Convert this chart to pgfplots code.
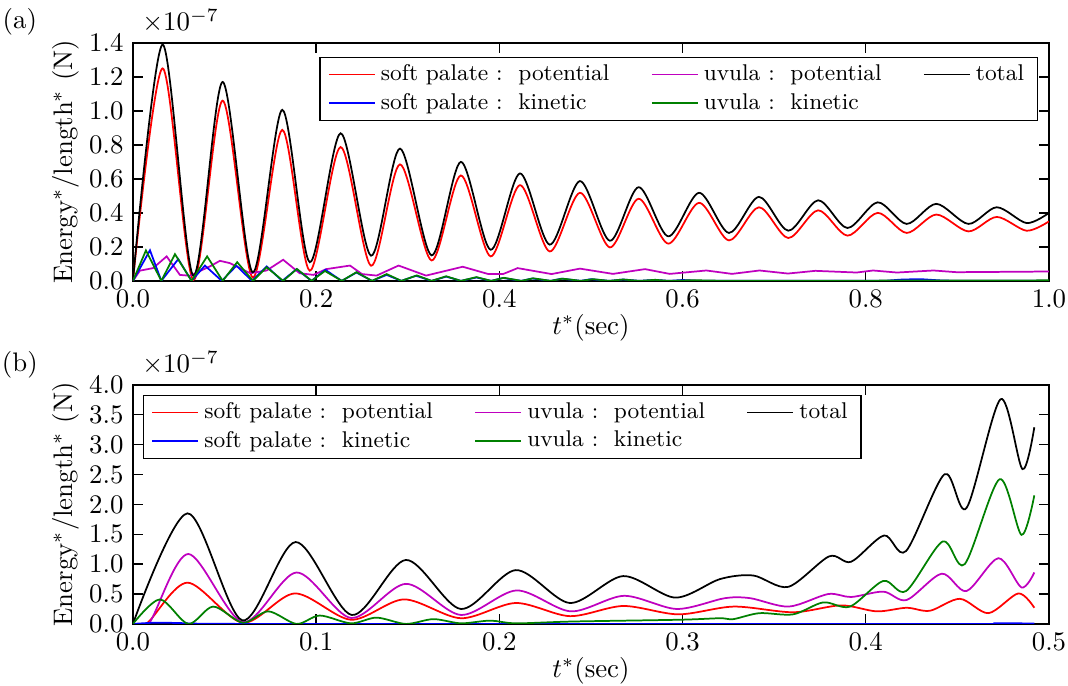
\documentclass[border=0pt]{standalone}
\usepackage{pgfplots}
\pgfplotsset{compat=1.18}
\definecolor{mplred}{RGB}{255,0,0}
\definecolor{mplblue}{RGB}{0,0,255}
\definecolor{mplmag}{RGB}{191,0,191}
\definecolor{mplgreen}{RGB}{0,128,0}
\pgfplotsset{
  myaxis/.style={
    scale only axis, width=341.8pt,
    xmin=0, ymin=0,
    tick align=inside, major tick length=3.7pt,
    axis line style={line width=0.6pt},
    every tick/.style={black, line width=0.5pt},
    xticklabel style={/pgf/number format/.cd, fixed, fixed zerofill, precision=1},
    yticklabel style={/pgf/number format/.cd, fixed, fixed zerofill, precision=1},
    xlabel={$t^*$(sec)}, xlabel shift=-4.5pt,
    ylabel={Energy$^*$/length$^*$ (N)}, ylabel shift=-3pt,
    legend cell align=left,
    legend columns=3,
    legend style={draw=black, font=\fontsize{8.5}{10}\selectfont,
      inner xsep=3pt, inner ysep=1pt,
      nodes={inner xsep=2pt, inner ysep=1.6pt, text depth=0.15em},
      /tikz/every even column/.append style={column sep=13.5pt}},
    every axis plot/.append style={line width=0.65pt, no markers},
  },
  legimgs/.style={}
}
\newcommand{\legendset}{%
\addlegendimage{mplred, line width=0.65pt}\addlegendentry{soft palate :\ \ potential}
\addlegendimage{mplmag, line width=0.65pt}\addlegendentry{uvula :\ \ potential}
\addlegendimage{black, line width=0.65pt}\addlegendentry{total}
\addlegendimage{mplblue, line width=0.65pt}\addlegendentry{soft palate :\ \ kinetic}
\addlegendimage{mplgreen, line width=0.65pt}\addlegendentry{uvula :\ \ kinetic}
}
\begin{document}
\begin{tikzpicture}
\useasboundingbox (-49.6pt,-151.1pt) rectangle (348.9pt,104.8pt);
\begin{axis}[myaxis, name=top, height=88.8pt, xmax=1, ymax=1.4,
  xtick={0,0.2,0.4,0.6,0.8,1.0}, ytick={0,0.2,0.4,0.6,0.8,1.0,1.2,1.4},
  legend style={at={(0.988,0.941)},anchor=north east}]
\legendset
\addplot[mplred, smooth, forget plot] coordinates {
(0,0) (0.0324,1.25) (0.0659,0.005) (0.0979,1.06) (0.1307,0.02) (0.163,0.888)
(0.193,0.06) (0.2267,0.787) (0.26,0.089) (0.2915,0.685) (0.326,0.12) (0.358,0.62)
(0.3905,0.144) (0.4225,0.563) (0.455,0.173) (0.488,0.518) (0.5207,0.197) (0.552,0.483)
(0.5844,0.219) (0.618,0.459) (0.6507,0.238) (0.6834,0.433) (0.7154,0.252) (0.748,0.415)
(0.780,0.266) (0.813,0.40) (0.8447,0.282) (0.877,0.39) (0.912,0.291) (0.943,0.376)
(0.9756,0.295) (1.0,0.35)};
\addplot[mplmag, forget plot] coordinates {
(0,0) (0.0076,0.06) (0.022,0.075) (0.0368,0.144) (0.0513,0.035) (0.062,0.03)
(0.084,0.085) (0.095,0.118) (0.106,0.104) (0.128,0.045) (0.146,0.061) (0.164,0.124)
(0.182,0.045) (0.197,0.035) (0.211,0.069) (0.237,0.09) (0.25,0.04) (0.266,0.031)
(0.29,0.09) (0.32,0.031) (0.36,0.083) (0.388,0.04) (0.404,0.04) (0.42,0.075)
(0.457,0.04) (0.488,0.072) (0.524,0.041) (0.559,0.069) (0.586,0.041) (0.626,0.061)
(0.654,0.041) (0.684,0.061) (0.715,0.043) (0.745,0.059) (0.79,0.049) (0.808,0.061)
(0.834,0.049) (0.874,0.061) (0.899,0.051) (0.95,0.053) (1.0,0.055)};
\addplot[black, smooth, forget plot] coordinates {
(0,0) (0.0324,1.39) (0.0659,0.03) (0.0979,1.17) (0.1307,0.05) (0.163,1.006)
(0.193,0.11) (0.2267,0.868) (0.26,0.148) (0.2915,0.778) (0.326,0.15) (0.358,0.70)
(0.3905,0.183) (0.4225,0.632) (0.455,0.213) (0.488,0.587) (0.5207,0.236) (0.552,0.551)
(0.5844,0.262) (0.618,0.518) (0.6507,0.282) (0.6834,0.494) (0.7154,0.295) (0.748,0.474)
(0.780,0.311) (0.813,0.462) (0.8447,0.335) (0.877,0.453) (0.912,0.335) (0.943,0.433)
(0.9756,0.34) (1.0,0.40)};
\addplot[mplblue, forget plot] coordinates {
(0,0) (0.0186,0.18) (0.031,0) (0.0495,0.128) (0.064,0) (0.0786,0.09) (0.097,0)
(0.113,0.089) (0.13,0) (0.146,0.085) (0.163,0) (0.1787,0.069) (0.195,0) (0.21,0.065)
(0.228,0) (0.244,0.049) (0.261,0) (0.277,0.035) (0.293,0) (0.309,0.03) (0.326,0)
(0.342,0.025) (0.358,0) (0.375,0.02) (0.391,0) (0.404,0.017) (0.424,0) (0.436,0.014)
(0.456,0) (0.468,0.013) (0.489,0) (0.5,0.01) (0.52,0) (0.535,0.008) (0.553,0)
(0.57,0.006) (0.585,0) (0.6,0.005) (0.62,0) (0.82,0) (0.84,0.008) (0.86,0.01)
(0.88,0.003) (0.9,0) (1.0,0)};
\addplot[mplgreen, forget plot] coordinates {
(0,0) (0.0142,0.179) (0.031,0) (0.0459,0.157) (0.064,0) (0.081,0.144) (0.098,0)
(0.1138,0.11) (0.131,0) (0.146,0.08) (0.164,0) (0.179,0.07) (0.195,0) (0.2096,0.058)
(0.228,0) (0.244,0.051) (0.261,0) (0.277,0.04) (0.293,0) (0.31,0.032) (0.326,0)
(0.342,0.027) (0.358,0) (0.375,0.022) (0.391,0) (0.405,0.018) (0.424,0) (0.437,0.015)
(0.456,0) (0.469,0.013) (0.489,0) (0.502,0.01) (0.52,0) (0.535,0.008) (0.553,0)
(0.57,0.006) (0.585,0) (0.61,0.004) (0.65,0) (1.0,0.003)};
\end{axis}
\begin{axis}[myaxis, name=bot, at={(0pt,-128pt)}, height=89.2pt, xmax=0.5, ymax=4,
  xtick={0,0.1,0.2,0.3,0.4,0.5}, ytick={0,0.5,1.0,1.5,2.0,2.5,3.0,3.5,4.0},
  legend style={at={(0.011,0.958)},anchor=north west}]
\legendset
\addplot[mplred, smooth, forget plot] coordinates {
(0,0) (0.008,0.02) (0.0298,0.69) (0.06,0.02) (0.0884,0.51) (0.119,0.07) (0.148,0.41)
(0.179,0.095) (0.209,0.35) (0.2385,0.13) (0.2676,0.30) (0.2977,0.16) (0.328,0.29)
(0.3604,0.195) (0.3865,0.31) (0.406,0.21) (0.4223,0.27) (0.435,0.22) (0.4514,0.42)
(0.467,0.18) (0.4833,0.51) (0.492,0.27)};
\addplot[mplmag, smooth, forget plot] coordinates {
(0,0) (0.009,0.02) (0.0302,1.17) (0.06,0.03) (0.0893,0.86) (0.119,0.10) (0.149,0.67)
(0.179,0.15) (0.2094,0.56) (0.239,0.21) (0.268,0.47) (0.2968,0.25) (0.323,0.43)
(0.337,0.43) (0.358,0.29) (0.3795,0.50) (0.392,0.45) (0.4096,0.54) (0.4223,0.40)
(0.4414,0.84) (0.455,0.55) (0.4724,1.10) (0.485,0.61) (0.492,0.86)};
\addplot[black, smooth, forget plot] coordinates {
(0,0) (0.0298,1.85) (0.0597,0.06) (0.0888,1.37) (0.1194,0.15) (0.149,1.07)
(0.179,0.25) (0.209,0.90) (0.2385,0.35) (0.2676,0.80) (0.296,0.44) (0.3204,0.75)
(0.3386,0.81) (0.3577,0.62) (0.380,1.13) (0.392,1.04) (0.410,1.48) (0.422,1.22)
(0.443,2.505) (0.455,1.94) (0.4736,3.76) (0.4855,2.59) (0.492,3.29)};
\addplot[mplblue, smooth, forget plot] coordinates {
(0,0) (0.012,0.02) (0.025,0.015) (0.04,0.003) (0.1,0) (0.46,0) (0.47,0.01) (0.492,0.008)};
\addplot[mplgreen, smooth, forget plot] coordinates {
(0,0) (0.0147,0.41) (0.0302,0) (0.0438,0.29) (0.06,0.02) (0.0739,0.21) (0.0893,0)
(0.102,0.14) (0.119,0.01) (0.133,0.105) (0.149,0) (0.164,0.08) (0.179,0.01)
(0.195,0.055) (0.209,0.01) (0.24,0.04) (0.2986,0.07) (0.3204,0.095) (0.3277,0.08)
(0.342,0.18) (0.3604,0.16) (0.3768,0.36) (0.3914,0.29) (0.4096,0.72) (0.422,0.55)
(0.442,1.38) (0.454,1.0) (0.473,2.42) (0.485,1.49) (0.492,2.15)};
\end{axis}
\node[anchor=base west] at ([yshift=4.5pt]top.north west) {$\times10^{-7}$};
\node[anchor=base west] at ([yshift=4.5pt]bot.north west) {$\times10^{-7}$};
\node at (-42.2pt,96.6pt) {(a)};
\node at (-42.2pt,-31.3pt) {(b)};
\end{tikzpicture}
\end{document}
